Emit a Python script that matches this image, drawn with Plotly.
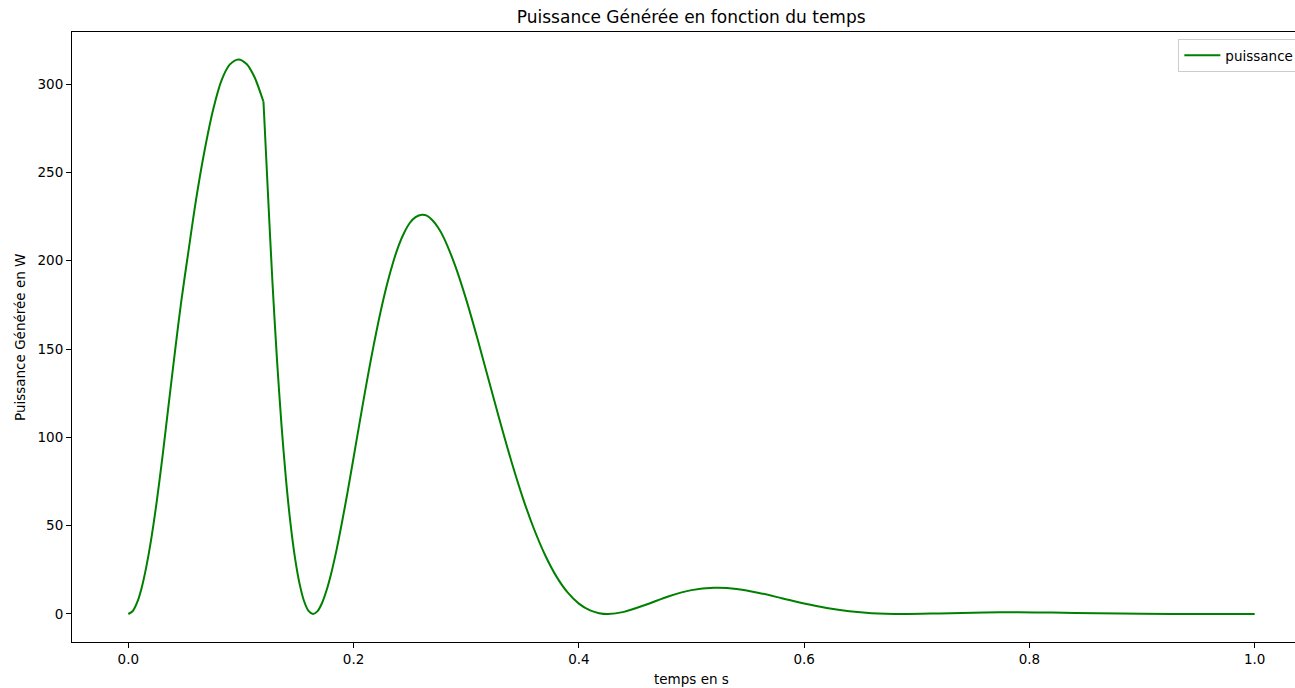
import plotly.graph_objects as go

# Phase 1: 0 -> 0.12 s
t1 = [0.000, 0.004, 0.008, 0.012, 0.016, 0.020, 0.025, 0.0305, 0.036, 0.0415,
      0.047, 0.0533, 0.060, 0.067, 0.0755, 0.083, 0.090, 0.0977, 0.105, 0.112, 0.120]
p1 = [0.0, 1.7, 6.8, 15.2, 26.8, 41.1, 62.6, 90.0, 119.6, 149.0,
      177.0, 205.0, 234.0, 260.0, 286.0, 302.5, 311.0, 314.0, 311.4, 304.0, 290.0]

# Phase 2: 0.12 -> 1.0 s
t2 = [0.120, 0.124, 0.128, 0.132, 0.136, 0.140, 0.144, 0.148, 0.152, 0.156, 0.160, 0.164,
      0.168, 0.172, 0.176, 0.180, 0.185, 0.190, 0.195, 0.200, 0.205, 0.210, 0.215, 0.220,
      0.225, 0.230, 0.235, 0.240, 0.245, 0.250, 0.255, 0.2606, 0.265, 0.270, 0.275, 0.280,
      0.290, 0.300, 0.310, 0.320, 0.330, 0.340, 0.350, 0.360, 0.370, 0.380, 0.390, 0.400,
      0.410, 0.418, 0.426, 0.440, 0.460, 0.480, 0.500, 0.520, 0.540, 0.560, 0.580, 0.600,
      0.620, 0.640, 0.660, 0.688, 0.720, 0.760, 0.790, 0.820, 0.860, 0.900, 0.950, 1.000]
p2 = [290.0, 237.6, 187.4, 143.9, 106.9, 76.1, 51.1, 31.6, 17.2, 7.35, 1.76, 0.0,
      1.62, 6.22, 13.4, 22.65, 36.7, 52.9, 70.3, 88.6, 107.1, 125.3, 142.8, 159.1,
      174.1, 187.4, 198.9, 208.6, 216.0, 221.5, 224.7, 226.0, 225.5, 222.9, 218.8, 213.1,
      197.5, 178.0, 155.8, 132.3, 109.0, 86.6, 66.2, 48.4, 33.4, 21.3, 12.2, 5.88,
      2.01, 0.46, 0.0, 1.20, 5.37, 10.08, 13.5, 14.8, 14.2, 11.9, 8.96, 5.93,
      3.39, 1.52, 0.44, 0.0, 0.33, 0.87, 0.97, 0.80, 0.41, 0.11, 0.01, 0.02]

x_ticks = [0.0, 0.2, 0.4, 0.6, 0.8, 1.0]
y_ticks = [0, 50, 100, 150, 200, 250, 300]

GREEN = "#008000"
FONT = "DejaVu Sans"

fig = go.Figure()
fig.add_trace(go.Scatter(x=t1, y=p1, mode="lines", name="puissance",
                         line=dict(color=GREEN, width=2, shape="spline", smoothing=0.8),
                         legendgroup="p", showlegend=True))
fig.add_trace(go.Scatter(x=t2, y=p2, mode="lines", name="puissance",
                         line=dict(color=GREEN, width=2, shape="spline", smoothing=0.8),
                         legendgroup="p", showlegend=False))

# Body margin removed (post_script), so figure coords = page coords.
# The original axes run past the window's right edge, so the figure overflows it.
W, H = 1340, 688
L, T = 72, 32
PLOT_BOTTOM = 641.7
PLOT_RIGHT = 1310.6
B = H - PLOT_BOTTOM
R = W - PLOT_RIGHT
PW = PLOT_RIGHT - L
PH = PLOT_BOTTOM - T

fig.update_layout(
    width=W, height=H,
    margin=dict(l=L, r=R, t=T, b=B),
    paper_bgcolor="white", plot_bgcolor="white",
    font=dict(family=FONT, size=13.5, color="black"),
    title=dict(text="Puissance Générée en fonction du temps",
               font=dict(family=FONT, size=17, color="black"),
               x=(691 - L) / PW, xref="paper", xanchor="center",
               y=1 - 17 / H, yref="container", yanchor="middle"),
    showlegend=True,
    legend=dict(x=(1178 - L) / PW, y=(PLOT_BOTTOM - 39) / PH,
                xanchor="left", yanchor="top",
                bordercolor="#cccccc", borderwidth=1, bgcolor="rgba(255,255,255,0.8)",
                font=dict(family=FONT, size=13.5, color="black"),
                itemwidth=36),
    xaxis=dict(range=[-0.05, 1.05], tickvals=x_ticks,
               ticktext=[f"{v:.1f}" for v in x_ticks],
               showgrid=False, zeroline=False, showline=True, linecolor="black",
               linewidth=1, mirror=True, ticks="outside", ticklen=5, tickcolor="black",
               tickwidth=1, tickfont=dict(family=FONT, size=13.5, color="black")),
    yaxis=dict(range=[-15.86, 329.5], tickvals=y_ticks,
               showgrid=False, zeroline=False, showline=True, linecolor="black",
               linewidth=1, mirror=True, ticks="outside", ticklen=5, tickcolor="black",
               tickwidth=1, tickfont=dict(family=FONT, size=13.5, color="black")),
    annotations=[
        dict(text="temps en s", x=(691 - L) / PW, y=-(679 - PLOT_BOTTOM) / PH,
             xref="paper", yref="paper", xanchor="center", yanchor="middle",
             showarrow=False, font=dict(family=FONT, size=13.5, color="black")),
        dict(text="Puissance Générée en W", x=(20 - L) / PW, y=0.5,
             xref="paper", yref="paper", xanchor="center", yanchor="middle",
             textangle=-90, showarrow=False, font=dict(family=FONT, size=13.5, color="black")),
    ],
)

fig.write_html(
    "out.html",
    config={"displayModeBar": False},
    post_script="document.documentElement.style.overflow='hidden';"
                "document.body.style.margin='0';document.body.style.overflow='hidden';",
)
